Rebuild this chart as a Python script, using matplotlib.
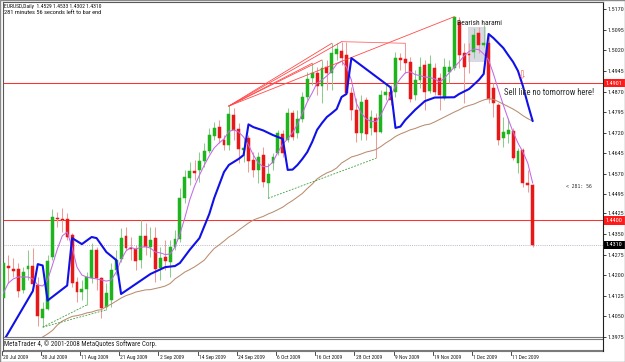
import numpy as np
import matplotlib
matplotlib.use("Agg")
import matplotlib.pyplot as plt
from matplotlib import font_manager
from matplotlib.font_manager import FontProperties
from matplotlib.textpath import TextPath
from matplotlib.patches import Rectangle
from matplotlib.transforms import blended_transform_factory

# ---------------- data ----------------
symbol = "EURUSD,Daily"
timer_text = "281 minutes 56 seconds left to bar end"
copyright_text = "MetaTrader 4, \u00a9 2001-2008 MetaQuotes Software Corp."

opens = [1.4115,1.4233,1.4221,1.4221,1.4146,1.4223,1.4233,1.4164,1.4042,1.4075,
         1.4267,1.4407,1.4405,1.4404,1.4346,1.4176,1.4139,1.4149,1.4188,1.4292,
         1.4188,1.4082,1.4109,1.4219,1.4259,1.4342,1.4300,1.4294,1.4255,1.4344,
         1.4304,1.4335,1.4225,1.4267,1.4249,1.4304,1.4332,1.4480,1.4553,1.4581,
         1.4584,1.4617,1.4654,1.4708,1.4742,1.4693,1.4675,1.4784,1.4732,1.4657,
         1.4699,1.4620,1.4584,1.4638,1.4535,1.4608,1.4644,1.4715,1.4693,1.4790,
         1.4717,1.4769,1.4851,1.4918,1.4939,1.4890,1.4958,1.4936,1.5006,1.5019,
         1.5003,1.4863,1.4803,1.4717,1.4839,1.4736,1.4772,1.4723,1.4857,1.4869,
         1.4869,1.4991,1.4988,1.4979,1.4857,1.4912,1.4967,1.4871,1.4955,1.4918,
         1.4845,1.4941,1.4955,1.5124,1.5009,1.5006,1.5014,1.5084,1.5038,1.5046,
         1.4883,1.4821,1.4699,1.4715,1.4727,1.4609,1.4657,1.4535,1.4529]
highs = [1.4267,1.4273,1.4262,1.4244,1.4231,1.4292,1.4299,1.4194,1.4103,1.4273,
         1.4440,1.4431,1.4444,1.4425,1.4352,1.4194,1.4182,1.4212,1.4316,1.4304,
         1.4194,1.4170,1.4243,1.4292,1.4371,1.4377,1.4340,1.4310,1.4401,1.4389,
         1.4377,1.4377,1.4304,1.4328,1.4328,1.4365,1.4517,1.4584,1.4614,1.4620,
         1.4650,1.4681,1.4736,1.4760,1.4766,1.4711,1.4817,1.4809,1.4754,1.4699,
         1.4711,1.4650,1.4650,1.4669,1.4608,1.4647,1.4730,1.4730,1.4809,1.4803,
         1.4803,1.4869,1.4942,1.4973,1.4961,1.4985,1.4985,1.5046,1.5046,1.5052,
         1.5052,1.4888,1.4845,1.4857,1.4851,1.4803,1.4790,1.4876,1.4900,1.4894,
         1.5015,1.5009,1.5046,1.4997,1.4949,1.4997,1.4985,1.5003,1.4973,1.4936,
         1.4991,1.4985,1.5143,1.5141,1.5046,1.5046,1.5101,1.5107,1.5113,1.5076,
         1.4900,1.4827,1.4778,1.4772,1.4736,1.4663,1.4663,1.4584,1.4533]
lows = [1.4109,1.4171,1.4193,1.4120,1.4135,1.4182,1.4158,1.4015,1.4010,1.4073,
        1.4255,1.4377,1.4358,1.4328,1.4155,1.4103,1.4109,1.4091,1.4170,1.4146,
        1.4042,1.4073,1.4085,1.4200,1.4248,1.4292,1.4255,1.4219,1.4226,1.4273,
        1.4267,1.4176,1.4182,1.4219,1.4194,1.4292,1.4322,1.4462,1.4529,1.4547,
        1.4541,1.4596,1.4644,1.4693,1.4681,1.4657,1.4657,1.4693,1.4608,1.4614,
        1.4577,1.4559,1.4535,1.4523,1.4480,1.4584,1.4638,1.4632,1.4687,1.4693,
        1.4699,1.4760,1.4839,1.4894,1.4857,1.4827,1.4876,1.4876,1.4985,1.4967,
        1.4863,1.4766,1.4687,1.4693,1.4693,1.4711,1.4626,1.4717,1.4839,1.4821,
        1.4851,1.4949,1.4936,1.4833,1.4839,1.4882,1.4803,1.4863,1.4857,1.4803,
        1.4839,1.4900,1.4949,1.4956,1.4827,1.4936,1.4991,1.5009,1.5034,1.4827,
        1.4778,1.4675,1.4669,1.4681,1.4620,1.4571,1.4523,1.4504,1.4302]
closes = [1.4243,1.4225,1.4216,1.4143,1.4211,1.4233,1.4167,1.4052,1.4076,1.4251,
          1.4413,1.4405,1.4401,1.4338,1.4172,1.4139,1.4149,1.4194,1.4292,1.4188,
          1.4079,1.4133,1.4219,1.4255,1.4334,1.4300,1.4294,1.4252,1.4343,1.4301,
          1.4328,1.4221,1.4261,1.4252,1.4304,1.4332,1.4480,1.4557,1.4580,1.4574,
          1.4617,1.4654,1.4711,1.4738,1.4699,1.4675,1.4788,1.4730,1.4659,1.4665,
          1.4617,1.4584,1.4632,1.4541,1.4569,1.4632,1.4717,1.4644,1.4790,1.4705,
          1.4769,1.4851,1.4915,1.4939,1.4890,1.4955,1.4936,1.5012,1.5024,1.4991,
          1.4866,1.4803,1.4717,1.4833,1.4715,1.4778,1.4723,1.4857,1.4869,1.4839,
          1.4991,1.4985,1.4975,1.4842,1.4912,1.4961,1.4869,1.4970,1.4869,1.4857,
          1.4958,1.4961,1.5141,1.5003,1.4961,1.5003,1.5076,1.5040,1.5047,1.4843,
          1.4828,1.4693,1.4723,1.4728,1.4626,1.4652,1.4535,1.4528,1.4310]

date_tick_idx = [0, 8, 16, 24, 32, 40, 48, 56, 64, 72, 80, 88, 96, 104]
date_labels = ["20 Jul 2009", "30 Jul 2009", "11 Aug 2009", "21 Aug 2009",
               "2 Sep 2009", "14 Sep 2009", "24 Sep 2009", "6 Oct 2009",
               "16 Oct 2009", "28 Oct 2009", "9 Nov 2009", "19 Nov 2009",
               "1 Dec 2009", "11 Dec 2009"]

price_ticks = [1.5170, 1.5095, 1.5020, 1.4945, 1.4870, 1.4795, 1.4720, 1.4645,
               1.4570, 1.4495, 1.4425, 1.4350, 1.4275, 1.4200, 1.4125, 1.4050, 1.3975]
level_lines = [1.4901, 1.4400]

# thick blue indicator (vertices at bar indexes)
blue_idx = [0, 6, 7, 8, 9, 13, 14, 16, 18, 19, 21, 23, 24, 30, 33, 35, 36, 38, 40, 42,
            43, 45, 46, 48, 49, 50, 51, 53, 55, 57, 58, 59, 60, 61, 62, 63, 64, 65, 66, 67,
            68, 69, 70, 71, 79, 80, 81, 82, 84, 86, 88, 92, 93, 95, 97, 98, 99, 100, 101, 102,
            103, 104, 105, 106, 107, 108]
blue_val = [1.3959, 1.4142, 1.4240, 1.4235, 1.4107, 1.4162, 1.4335, 1.4313, 1.4339, 1.4335,
            1.4284, 1.4255, 1.4131, 1.4204, 1.4229, 1.4233, 1.4244, 1.4292, 1.4335, 1.4423,
            1.4481, 1.4576, 1.4602, 1.4624, 1.4638, 1.4750, 1.4740, 1.4728, 1.4711, 1.4697,
            1.4584, 1.4585, 1.4602, 1.4624, 1.4649, 1.4686, 1.4730, 1.4755, 1.4777, 1.4791,
            1.4806, 1.4850, 1.4861, 1.4992, 1.4885, 1.4737, 1.4742, 1.4766, 1.4803, 1.4835,
            1.4848, 1.4849, 1.4861, 1.4879, 1.4912, 1.4934, 1.5080, 1.5065, 1.5047, 1.5029,
            1.5003, 1.4978, 1.4945, 1.4890, 1.4824, 1.4762]

# thin violet moving average (one value per bar)
purple_val = [1.4135, 1.4171, 1.4186, 1.4193, 1.4193, 1.4193, 1.4186, 1.4164, 1.4160, 1.4182,
              1.4237, 1.4295, 1.4343, 1.4357, 1.4302, 1.4229, 1.4200, 1.4193, 1.4189, 1.4186,
              1.4182, 1.4178, 1.4182, 1.4211, 1.4255, 1.4288, 1.4301, 1.4295, 1.4301, 1.4304,
              1.4298, 1.4284, 1.4281, 1.4275, 1.4277, 1.4302, 1.4350, 1.4408, 1.4474, 1.4525,
              1.4565, 1.4602, 1.4635, 1.4664, 1.4682, 1.4697, 1.4724, 1.4730, 1.4722, 1.4704,
              1.4675, 1.4638, 1.4609, 1.4596, 1.4596, 1.4613, 1.4649, 1.4678, 1.4697, 1.4720,
              1.4750, 1.4790, 1.4832, 1.4865, 1.4901, 1.4912, 1.4927, 1.4945, 1.4970, 1.4981,
              1.4959, 1.4912, 1.4828, 1.4792, 1.4770, 1.4761, 1.4760, 1.4784, 1.4821, 1.4855,
              1.4890, 1.4917, 1.4938, 1.4942, 1.4932, 1.4928, 1.4923, 1.4921, 1.4916, 1.4905,
              1.4919, 1.4939, 1.4959, 1.4978, 1.5000, 1.5016, 1.5025, 1.5023, 1.5007, 1.4985,
              1.4934, 1.4876, 1.4821, 1.4770, 1.4722, 1.4682, 1.4649, 1.4609, 1.4536]

# slow brown moving average (from bar 6 onward)
brown_start = 6
brown_val = [1.3950, 1.3962, 1.3974, 1.3985,
             1.3998, 1.4018, 1.4032, 1.4041, 1.4049, 1.4052, 1.4056, 1.4062, 1.4065, 1.4071,
             1.4074, 1.4085, 1.4094, 1.4105, 1.4116, 1.4125, 1.4131, 1.4138, 1.4142, 1.4146,
             1.4147, 1.4151, 1.4155, 1.4160, 1.4169, 1.4186, 1.4198, 1.4211, 1.4220, 1.4230,
             1.4242, 1.4255, 1.4277, 1.4297, 1.4310, 1.4324, 1.4339, 1.4350, 1.4364, 1.4377,
             1.4390, 1.4401, 1.4408, 1.4414, 1.4423, 1.4430, 1.4439, 1.4448, 1.4461, 1.4472,
             1.4485, 1.4498, 1.4516, 1.4532, 1.4551, 1.4563, 1.4573, 1.4580, 1.4591, 1.4609,
             1.4620, 1.4631, 1.4636, 1.4642, 1.4649, 1.4653, 1.4658, 1.4669, 1.4682, 1.4693,
             1.4706, 1.4715, 1.4722, 1.4730, 1.4735, 1.4742, 1.4748, 1.4751, 1.4759, 1.4768,
             1.4777, 1.4786, 1.4795, 1.4803, 1.4813, 1.4819, 1.4824, 1.4832, 1.4839, 1.4844,
             1.4841, 1.4833, 1.4824, 1.4815, 1.4806, 1.4795, 1.4782, 1.4771, 1.4762]

# hand-drawn objects (anchored on bars' highs / lows)
fan_origin = 46
fan_targets = [63, 65, 67, 69, 92]
high_line = (69, 82)
support_lines = [(8, 17), (8, 21), (54, 76)]

# ---------------- fonts: pick a narrow sans face among a few known ones ----------------
def _width_pt(s, prop, size=10.0):
    return TextPath((0, 0), s, size=size, prop=prop).get_extents().width


_preferred = ["Liberation Sans Narrow", "Arial Narrow", "Roboto Condensed",
              "Open Sans Condensed", "Noto Sans Condensed", "DejaVu Sans Condensed",
              "Liberation Sans", "Roboto", "Noto Sans", "DejaVu Sans"]
_entries = {}
for e in font_manager.fontManager.ttflist:
    if e.name in _preferred and e.style == "normal" and e.weight in (400, "normal", "regular"):
        key = (e.name, str(e.stretch))
        _entries.setdefault(key, e.fname)
_cands = []
for (nm, st), fn in list(_entries.items())[:14]:
    try:
        p = FontProperties(fname=fn)
        w = _width_pt("1.4529 Sell like", p)
        h = TextPath((0, 0), "H", size=10, prop=p).get_extents().height
        if w > 0 and h > 0:
            _cands.append((w / h, fn))
    except Exception:
        pass
_cands.sort()
BASE_FP = FontProperties(fname=_cands[0][1]) if _cands else FontProperties(family="DejaVu Sans")
MONO_FP = FontProperties(family="DejaVu Sans Mono")


def fit_size(s, target_px, prop=BASE_FP, cap=None):
    w_px = _width_pt(s, prop, 10.0) * 100.0 / 72.0
    sz = 10.0 * target_px / w_px
    return min(sz, cap) if cap else sz


def fprop(size, prop=BASE_FP):
    p = prop.copy()
    p.set_size(size)
    return p


SZ_AXIS = fit_size("1.5170", 16.0, cap=6.0)
SZ_HEAD = fit_size(f"{symbol}  1.4529 1.4533 1.4302 1.4310", 98, cap=6.2)
SZ_TIMER = fit_size(timer_text, 98, cap=6.2)
SZ_COPY = fit_size(copyright_text, 150, cap=6.0)
SZ_DATE = fit_size("20 Jul 2009", 25, cap=5.8)
SZ_HARAMI = fit_size("Bearish harami", 44, cap=6.2)
SZ_SELL = fit_size("Sell like no tomorrow here!", 94, cap=6.2)
SZ_MONO = fit_size("< 281: 56", 25, prop=MONO_FP, cap=5.5)

# ---------------- figure ----------------
W, HH = 625, 362
fig = plt.figure(figsize=(W / 100, HH / 100), dpi=100)
fig.patch.set_facecolor("white")


def fxp(px):
    return px / W


def fyp(py):
    return 1 - py / HH


L_PX, R_PX, T_PX, B_PX = 2.5, 603.0, 2.0, 337.0
ax = fig.add_axes([fxp(L_PX), fyp(B_PX), fxp(R_PX) - fxp(L_PX), fyp(T_PX) - fyp(B_PX)])
ax.set_facecolor("white")
ax.set_xlim(-0.2, 122.35)
ax.set_ylim(1.39740, 1.51967)

n = len(opens)
idx = np.arange(n)
O = np.array(opens); Hh = np.array(highs); Ll = np.array(lows); C = np.array(closes)
up = C >= O

# harami box
ax.add_patch(Rectangle((94.9, 1.4976), 3.6, 0.0131, facecolor="#d9d9e3",
                       edgecolor="none", zorder=0.5))

# horizontal levels
for lv in level_lines:
    ax.axhline(lv, color="#ff3030", lw=0.75, zorder=1)
ax.axhline(closes[-1], color="#b8b8cc", lw=0.7, ls=(0, (1, 1.2)), zorder=1)

# candles
wick_cols = np.where(up, "#8ccc8c", "#f09a9a")
body_cols = np.where(up, "#1db41d", "#e81818")
ax.vlines(idx, Ll, Hh, colors=wick_cols, linewidth=0.75, zorder=2)
ax.bar(idx, np.abs(C - O), bottom=np.minimum(O, C), width=0.6,
       color=body_cols, edgecolor=body_cols, linewidth=0.35, zorder=3)

# indicators
ax.plot(np.arange(brown_start, brown_start + len(brown_val)), brown_val,
        color="#b98d70", lw=0.75, zorder=4)
ax.plot(idx, purple_val, color="#c36ae6", lw=0.75, zorder=4)
ax.plot(blue_idx, blue_val, color="#1010e8", lw=1.5, zorder=4.5,
        solid_joinstyle="round", solid_capstyle="round")

# trend lines
for t in fan_targets:
    ax.plot([fan_origin, t], [highs[fan_origin], highs[t]], color="#ff4a4a", lw=0.6, zorder=4)
ax.plot(list(high_line), [highs[high_line[0]], highs[high_line[1]]],
        color="#ff6a6a", lw=0.6, zorder=4)
for a, b in support_lines:
    ax.plot([a, b], [lows[a], lows[b]], color="#3f9f3f", lw=0.6,
            ls=(0, (2.2, 1.6)), zorder=4)

# annotations
ax.text(92.6, 1.5120, "Bearish harami", fontproperties=fprop(SZ_HARAMI), color="#202020",
        ha="left", va="center", zorder=6)
ax.text(102.1, 1.4866, "Sell like no tomorrow here!", fontproperties=fprop(SZ_SELL),
        color="#303030", ha="left", va="center", zorder=6)
ax.text(105.8, 1.4928, "\u21e9", fontsize=7.5, color="#ff5a5a", ha="center",
        va="center", zorder=6, family="DejaVu Sans")
ax.text(114.9, 1.4525, "< 281: 56", fontproperties=fprop(SZ_MONO, MONO_FP), color="#303030",
        ha="left", va="center", zorder=6)

# axes styling
ax.set_xticks([])
ax.yaxis.tick_right()
ax.set_yticks(price_ticks)
ax.set_yticklabels([f"{v:.4f}" for v in price_ticks])
ax.tick_params(axis="y", direction="out", length=2.2, width=0.6, pad=0.8,
               colors="#202020")
for lbl in ax.get_yticklabels():
    lbl.set_fontproperties(fprop(SZ_AXIS))
for side in ["left", "top"]:
    ax.spines[side].set_color("#5a5a5a")
    ax.spines[side].set_linewidth(0.8)
ax.spines["right"].set_color("#202020")
ax.spines["right"].set_linewidth(0.8)
ax.spines["bottom"].set_color("#7a7a7a")
ax.spines["bottom"].set_linewidth(0.8)

ytrans = blended_transform_factory(ax.transAxes, ax.transData)
box_specs = [(level_lines[0], "#ff1a1a"), (level_lines[1], "#ff1a1a"), (closes[-1], "#000000")]
for val, col in box_specs:
    ax.annotate(f"{val:.4f}", xy=(1.0, val), xycoords=ytrans, xytext=(3.0, 0),
                textcoords="offset pixels", ha="left", va="center",
                fontproperties=fprop(SZ_AXIS), color="white", annotation_clip=False,
                zorder=10, bbox=dict(boxstyle="square,pad=0.3", fc=col, ec="none"))

# header texts
header = f"{symbol}  {opens[-1]:.4f} {highs[-1]:.4f} {lows[-1]:.4f} {closes[-1]:.4f}"
fig.text(fxp(4), fyp(6.5), header, fontproperties=fprop(SZ_HEAD), color="#101010",
         ha="left", va="center")
fig.text(fxp(4), fyp(12.8), timer_text, fontproperties=fprop(SZ_TIMER), color="#101010",
         ha="left", va="center")

# bottom strip (empty sub window) and time labels
for yy in [339.0, 349.5, 351.3]:
    fig.add_artist(plt.Line2D([fxp(L_PX), fxp(R_PX)], [fyp(yy), fyp(yy)],
                              color="#7a7a7a", lw=0.8))
fig.add_artist(plt.Line2D([fxp(R_PX), fxp(R_PX)], [fyp(B_PX), fyp(351.3)], color="#202020", lw=0.8))
fig.add_artist(plt.Line2D([fxp(L_PX), fxp(L_PX)], [fyp(B_PX), fyp(351.3)], color="#5a5a5a", lw=0.8))
fig.text(fxp(3.5), fyp(344.6), copyright_text, fontproperties=fprop(SZ_COPY), color="#202020",
         ha="left", va="center")

xtrans = blended_transform_factory(ax.transData, fig.transFigure)
for i, lab in zip(date_tick_idx, date_labels):
    ax.plot([i - 0.4, i - 0.4], [fyp(351.3), fyp(355)], transform=xtrans, clip_on=False,
            color="#303030", lw=0.6)
    ax.text(i - 0.15, fyp(357.3), lab, transform=xtrans, ha="left", va="center",
            fontproperties=fprop(SZ_DATE), color="#202020", clip_on=False)

# outer frame
fig.add_artist(Rectangle((0, 0), 1, 1, transform=fig.transFigure, fill=False,
                         edgecolor="#8a8a8a", lw=1.0))

fig.savefig("out.png", dpi=100, facecolor="white")
